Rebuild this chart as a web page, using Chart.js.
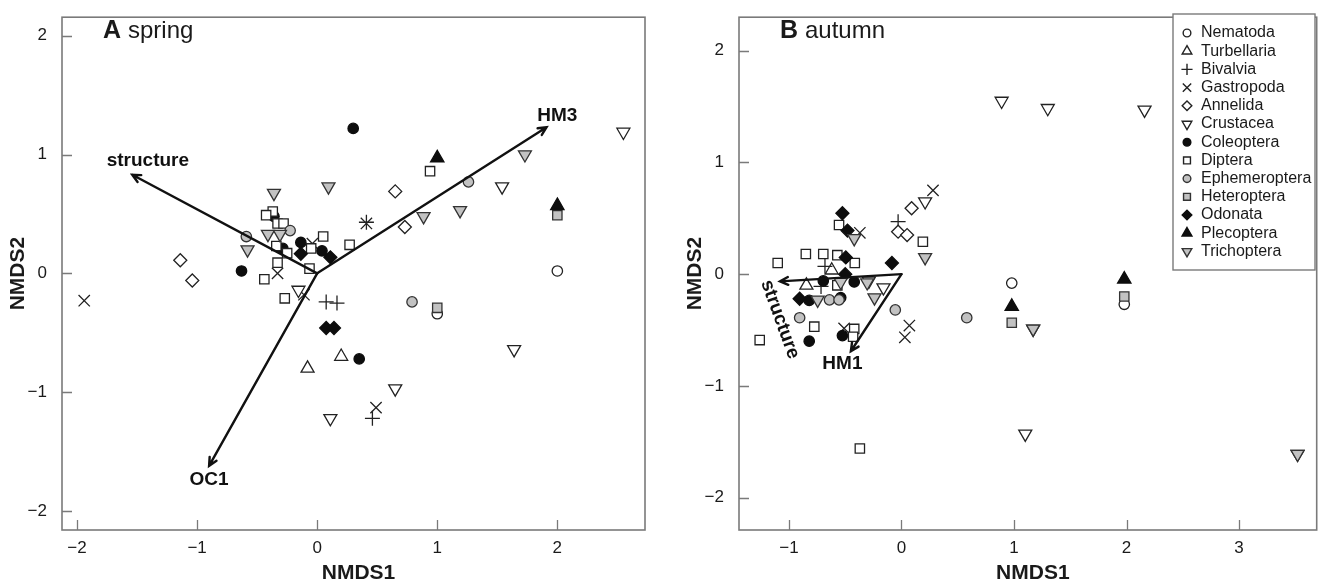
<!DOCTYPE html>
<html>
<head>
<meta charset="utf-8">
<title>NMDS spring / autumn</title>
<script src="https://cdn.jsdelivr.net/npm/chart.js@4.4.1/dist/chart.umd.min.js"></script>
<style>
  html, body { margin: 0; padding: 0; background: #fff; }
  #wrap { position: relative; width: 1326px; height: 586px; }
  canvas { position: absolute; top: 0; }
  #springChart { left: 0; }
  #autumnChart { left: 663px; }
</style>
</head>
<body>
<div id="wrap">
  <canvas id="springChart" width="663" height="586"></canvas>
  <canvas id="autumnChart" width="663" height="586"></canvas>
</div>
<script>
// taxa in legend order
const taxa = ["Nematoda", "Turbellaria", "Bivalvia", "Gastropoda", "Annelida", "Crustacea",
  "Coleoptera", "Diptera", "Ephemeroptera", "Heteroptera", "Odonata", "Plecoptera", "Trichoptera"];

// A spring: [NMDS1, NMDS2]
const nematodaSpring = [[2.0, 0.02], [1.0, -0.34]];
const turbellariaSpring = [[0.20, -0.70], [-0.08, -0.80]];
const bivalviaSpring = [[0.41, 0.43], [0.075, -0.24], [0.165, -0.25], [0.46, -1.22]];
const gastropodaSpring = [[0.41, 0.42], [-0.04, 0.25], [-0.33, 0.0], [-0.11, -0.18], [-1.94, -0.23], [0.49, -1.13]];
const annelidaSpring = [[0.65, 0.69], [0.73, 0.39], [-1.14, 0.11], [-1.04, -0.06]];
const crustaceaSpring = [[2.55, 1.19], [1.54, 0.73], [-0.156, -0.14], [1.64, -0.64], [0.65, -0.97], [0.11, -1.22]];
const coleopteraSpring = [[0.30, 1.22], [-0.36, 0.48], [-0.136, 0.26], [0.04, 0.19], [-0.286, 0.21], [-0.63, 0.02], [0.35, -0.72]];
const dipteraSpring = [[0.94, 0.86], [-0.37, 0.52], [-0.425, 0.49], [-0.33, 0.42], [-0.28, 0.42], [0.05, 0.31],
  [-0.05, 0.21], [0.27, 0.24], [-0.34, 0.23], [-0.25, 0.17], [-0.33, 0.09], [-0.064, 0.04], [-0.44, -0.05], [-0.27, -0.21]];
const ephemeropteraSpring = [[1.26, 0.77], [-0.225, 0.36], [-0.59, 0.31], [0.79, -0.24]];
const heteropteraSpring = [[2.0, 0.49], [1.0, -0.29]];
const odonataSpring = [[-0.136, 0.165], [0.11, 0.135], [0.075, -0.46], [0.14, -0.46]];
const plecopteraSpring = [[1.0, 0.97], [2.0, 0.57]];
const trichopteraSpring = [[0.094, 0.73], [-0.36, 0.675], [1.19, 0.53], [0.886, 0.48], [-0.41, 0.33], [-0.31, 0.33], [-0.58, 0.20], [1.73, 1.0]];

// B autumn
const nematodaAutumn = [[0.98, -0.08], [1.98, -0.27]];
const turbellariaAutumn = [[-0.62, 0.035], [-0.845, -0.10]];
const bivalviaAutumn = [[-0.03, 0.47], [-0.68, 0.07], [-0.715, -0.11]];
const gastropodaAutumn = [[0.28, 0.75], [-0.37, 0.37], [0.07, -0.46], [0.03, -0.565], [-0.51, -0.485]];
const annelidaAutumn = [[0.09, 0.59], [-0.03, 0.38], [0.05, 0.35]];
const crustaceaAutumn = [[0.89, 1.55], [1.30, 1.485], [2.16, 1.47], [0.21, 0.65], [-0.29, -0.06], [-0.16, -0.12],
  [1.17, -0.49], [1.10, -1.43], [3.52, -1.61]];
const coleopteraAutumn = [[-0.695, -0.06], [-0.42, -0.07], [-0.82, -0.235], [-0.54, -0.21], [-0.82, -0.60], [-0.525, -0.55]];
const dipteraAutumn = [[-0.555, 0.44], [-0.85, 0.18], [-0.695, 0.18], [-0.57, 0.17], [-0.415, 0.10], [-1.10, 0.10],
  [-0.57, -0.10], [0.19, 0.29], [-0.775, -0.47], [-1.26, -0.59], [-0.42, -0.49], [-0.43, -0.56], [-0.37, -1.56]];
const ephemeropteraAutumn = [[-0.64, -0.23], [-0.555, -0.23], [-0.905, -0.39], [-0.055, -0.32], [0.58, -0.39]];
const heteropteraAutumn = [[0.98, -0.435], [1.98, -0.20]];
const odonataAutumn = [[-0.525, 0.545], [-0.48, 0.39], [-0.495, 0.15], [-0.085, 0.10], [-0.50, 0.0], [-0.905, -0.22]];
const plecopteraAutumn = [[0.98, -0.29], [1.98, -0.045]];
const trichopteraAutumn = [[-0.42, 0.32], [0.21, 0.15], [-0.54, -0.07], [-0.305, -0.075], [-0.24, -0.21], [-0.745, -0.23],
  [1.17, -0.49], [3.52, -1.61]];

// fitted environmental vectors
const springArrowNames = ["structure", "HM3", "OC1"];
const springArrowX = [-1.54, 1.91, -0.90];
const springArrowY = [0.83, 1.23, -1.62];
const springLabelX = [-1.41, 2.0, -0.90];
const springLabelY = [0.945, 1.325, -1.735];
const autumnArrowNames = ["structure", "HM1"];
const autumnArrowX = [-1.08, -0.45];
const autumnArrowY = [-0.065, -0.69];
const autumnLabelX = [-1.08, -0.525];
const autumnLabelY = [-0.405, -0.80];

// axes
const springXTicks = [-2, -1, 0, 1, 2];
const springYTicks = [-2, -1, 0, 1, 2];
const autumnXTicks = [-1, 0, 1, 2, 3];
const autumnYTicks = [-2, -1, 0, 1, 2];
const springXRange = [-2.125, 2.73];
const springYRange = [-2.16, 2.156];
const autumnXRange = [-1.444, 3.69];
const autumnYRange = [-2.29, 2.30];

const springSeries = [nematodaSpring, turbellariaSpring, bivalviaSpring, gastropodaSpring, annelidaSpring, crustaceaSpring,
  coleopteraSpring, dipteraSpring, ephemeropteraSpring, heteropteraSpring, odonataSpring, plecopteraSpring, trichopteraSpring];
const autumnSeries = [nematodaAutumn, turbellariaAutumn, bivalviaAutumn, gastropodaAutumn, annelidaAutumn, crustaceaAutumn,
  coleopteraAutumn, dipteraAutumn, ephemeropteraAutumn, heteropteraAutumn, odonataAutumn, plecopteraAutumn, trichopteraAutumn];

// marker styles
const fills = { open: "#ffffff", grey: "#c2c2c2", black: "#0d0d0d" };
const strokes = { open: "#222222", grey: "#333333", black: "#0d0d0d" };
const markers = [
  { style: "circle", fill: "open", r: 5.2, rot: 0 },
  { style: "triangle", fill: "open", r: 7.5, rot: 0 },
  { style: "cross", fill: "open", r: 7.5, rot: 0 },
  { style: "crossRot", fill: "open", r: 8, rot: 0 },
  { style: "rectRot", fill: "open", r: 6.5, rot: 0 },
  { style: "triangle", fill: "open", r: 7.5, rot: 180 },
  { style: "circle", fill: "black", r: 5.2, rot: 0 },
  { style: "rect", fill: "open", r: 6.6, rot: 0 },
  { style: "circle", fill: "grey", r: 5.2, rot: 0 },
  { style: "rect", fill: "grey", r: 6.6, rot: 0 },
  { style: "rectRot", fill: "black", r: 6.5, rot: 0 },
  { style: "triangle", fill: "black", r: 7.7, rot: 0 },
  { style: "triangle", fill: "grey", r: 7.5, rot: 180 },
];

const frameColor = "#7a7a7a";
const textColor = "#1a1a1a";
const fontFamily = "'Liberation Sans', Arial, sans-serif";

function buildDatasets(series) {
  return taxa.map((name, i) => ({
    label: name,
    data: series[i].map(p => ({ x: p[0], y: p[1] })),
    showLine: false,
    pointStyle: markers[i].style,
    pointRotation: markers[i].rot,
    pointRadius: markers[i].r,
    pointBackgroundColor: fills[markers[i].fill],
    pointBorderColor: strokes[markers[i].fill],
    pointBorderWidth: 1.3,
    order: taxa.length - i,
  }));
}

const minusFmt = v => (v < 0 ? "\u2212" + Math.abs(v) : String(v));

// box, inward ticks, axis titles, panel title
const framePlugin = {
  id: "frame",
  afterDraw(chart) {
    const opts = chart.options.plugins.frame;
    const { ctx, chartArea: a, scales } = chart;
    ctx.save();
    ctx.strokeStyle = frameColor;
    ctx.lineWidth = 1.6;
    ctx.strokeRect(a.left, a.top, a.width, a.height);
    ctx.lineWidth = 1.3;
    ctx.beginPath();
    scales.x.ticks.forEach(t => {
      const px = Math.round(scales.x.getPixelForValue(t.value)) + 0.5;
      ctx.moveTo(px, a.bottom);
      ctx.lineTo(px, a.bottom - 10);
    });
    scales.y.ticks.forEach(t => {
      const py = Math.round(scales.y.getPixelForValue(t.value)) + 0.5;
      ctx.moveTo(a.left, py);
      ctx.lineTo(a.left + 10, py);
    });
    ctx.stroke();

    ctx.fillStyle = textColor;
    ctx.textAlign = "center";
    ctx.textBaseline = "middle";
    ctx.font = "bold 21px " + fontFamily;
    ctx.fillText("NMDS1", (a.left + a.right) / 2 + 5, 573);
    ctx.save();
    ctx.translate(a.left - 44, (a.top + a.bottom) / 2);
    ctx.rotate(-Math.PI / 2);
    ctx.fillText("NMDS2", 0, 0);
    ctx.restore();

    ctx.textAlign = "left";
    ctx.textBaseline = "alphabetic";
    ctx.font = "bold 25px " + fontFamily;
    ctx.fillText(opts.letter, a.left + 41, 38);
    const w = ctx.measureText(opts.letter + " ").width;
    ctx.font = "24px " + fontFamily;
    ctx.fillText(opts.season, a.left + 41 + w, 38);
    ctx.restore();
  }
};

// vectors with arrow heads and labels
const arrowPlugin = {
  id: "arrows",
  afterDatasetsDraw(chart) {
    const o = chart.options.plugins.arrows;
    const { ctx, scales } = chart;
    const x0 = scales.x.getPixelForValue(0), y0 = scales.y.getPixelForValue(0);
    ctx.save();
    ctx.strokeStyle = "#111";
    ctx.fillStyle = "#111";
    ctx.lineWidth = 2.4;
    ctx.lineCap = "round";
    o.names.forEach((name, i) => {
      const x1 = scales.x.getPixelForValue(o.x[i]);
      const y1 = scales.y.getPixelForValue(o.y[i]);
      const ang = Math.atan2(y1 - y0, x1 - x0);
      ctx.beginPath();
      ctx.moveTo(x0, y0);
      ctx.lineTo(x1, y1);
      ctx.moveTo(x1 - 9 * Math.cos(ang - 0.45), y1 - 9 * Math.sin(ang - 0.45));
      ctx.lineTo(x1, y1);
      ctx.lineTo(x1 - 9 * Math.cos(ang + 0.45), y1 - 9 * Math.sin(ang + 0.45));
      ctx.stroke();

      const lx = scales.x.getPixelForValue(o.lx[i]);
      const ly = scales.y.getPixelForValue(o.ly[i]);
      ctx.save();
      ctx.translate(lx, ly);
      ctx.rotate((o.angle[i] || 0) * Math.PI / 180);
      ctx.font = "bold 19px " + fontFamily;
      ctx.textAlign = "center";
      ctx.textBaseline = "middle";
      ctx.fillText(name, 0, 0);
      ctx.restore();
    });
    ctx.restore();
  }
};

// boxed legend in panel B
const legendPlugin = {
  id: "taxaLegend",
  afterDraw(chart) {
    const o = chart.options.plugins.taxaLegend;
    if (!o || !o.show) return;
    const ctx = chart.ctx;
    ctx.save();
    ctx.strokeStyle = frameColor;
    ctx.lineWidth = 1.4;
    ctx.fillStyle = "#fff";
    ctx.fillRect(o.left, o.top, o.width, o.height);
    ctx.strokeRect(o.left, o.top, o.width, o.height);
    ctx.font = "16px " + fontFamily;
    ctx.textBaseline = "middle";
    ctx.textAlign = "left";
    taxa.forEach((name, i) => {
      const y = o.top + 19 + i * 18.2;
      const m = markers[i];
      ctx.fillStyle = fills[m.fill];
      ctx.strokeStyle = strokes[m.fill];
      Chart.helpers.drawPoint(ctx, { pointStyle: m.style, rotation: m.rot, radius: m.r * 0.74, borderWidth: 1.1 }, o.left + 14, y);
      ctx.fillStyle = textColor;
      ctx.fillText(name, o.left + 28, y);
    });
    ctx.restore();
  }
};

function makeChart(id, series, xr, yr, xt, yt, yWidth, pad, frame, arrows, legend) {
  return new Chart(document.getElementById(id).getContext("2d"), {
    type: "scatter",
    data: { datasets: buildDatasets(series) },
    options: {
      responsive: false,
      animation: false,
      events: [],
      layout: { padding: pad },
      scales: {
        x: {
          type: "linear", min: xr[0], max: xr[1],
          grid: { display: false }, border: { display: false },
          afterBuildTicks: s => { s.ticks = xt.map(v => ({ value: v })); },
          afterFit: s => { s.height = 56; },
          ticks: { padding: 0, color: textColor, font: { family: fontFamily, size: 17 }, callback: minusFmt },
        },
        y: {
          type: "linear", min: yr[0], max: yr[1],
          grid: { display: false }, border: { display: false },
          afterBuildTicks: s => { s.ticks = yt.map(v => ({ value: v })); },
          afterFit: s => { s.width = yWidth; },
          ticks: { padding: 7, color: textColor, font: { family: fontFamily, size: 17 }, callback: minusFmt },
        },
      },
      plugins: {
        legend: { display: false },
        tooltip: { enabled: false },
        frame: frame,
        arrows: arrows,
        taxaLegend: legend,
      },
    },
    plugins: [framePlugin, arrowPlugin, legendPlugin],
  });
}

makeChart("springChart", springSeries, springXRange, springYRange, springXTicks, springYTicks, 62,
  { top: 12, right: 18, left: 0, bottom: 0 },
  { letter: "A", season: "spring" },
  { names: springArrowNames, x: springArrowX, y: springArrowY, lx: springLabelX, ly: springLabelY, angle: [0, 0, 0] },
  { show: false });

makeChart("autumnChart", autumnSeries, autumnXRange, autumnYRange, autumnXTicks, autumnYTicks, 76,
  { top: 9, right: 4, left: 0, bottom: 0 },
  { letter: "B", season: "autumn" },
  { names: autumnArrowNames, x: autumnArrowX, y: autumnArrowY, lx: autumnLabelX, ly: autumnLabelY, angle: [70, 0] },
  { show: true, left: 510, top: 14, width: 142, height: 256 });
</script>
</body>
</html>
